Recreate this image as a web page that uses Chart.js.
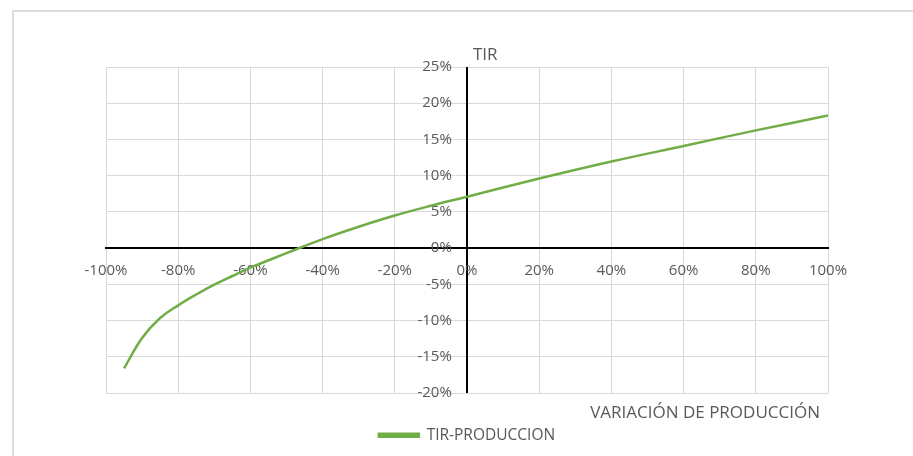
<!DOCTYPE html>
<html>
<head>
<meta charset="utf-8">
<script src="https://cdn.jsdelivr.net/npm/chart.js@4/dist/chart.umd.min.js"></script>
<style>
  html, body { margin: 0; padding: 0; background: #fff; overflow: hidden; }
  #wrap { position: relative; width: 913px; height: 456px; }
  #frame { position: absolute; left: 12px; top: 10px; width: 1000px; height: 1000px;
           border-left: 2px solid #dcdcdc; border-top: 2px solid #dcdcdc; }
  canvas { position: absolute; left: 0; top: 0; }
</style>
</head>
<body>
<div id="wrap">
  <div id="frame"></div>
  <canvas id="chart" width="913" height="456"></canvas>
</div>
<script>
// Production variation (%) and resulting internal rate of return (%)
const variacion = [-95, -90, -85, -80, -75, -70, -65, -60, -50, -40, -30, -20, -10, 0, 20, 40, 60, 80, 100];
const tir = [-16.6, -12.4, -9.65, -7.9, -6.4, -5.05, -3.85, -2.7, -0.7, 1.25, 2.95, 4.5, 5.85, 7.1, 9.6, 11.95, 14.1, 16.25, 18.3];

const xTicks = [-100, -80, -60, -40, -20, 0, 20, 40, 60, 80, 100];
const yTicks = [-20, -15, -10, -5, 0, 5, 10, 15, 20, 25];

const seriesName = 'TIR-PRODUCCION';
const xTitle = 'VARIACIÓN DE PRODUCCIÓN';
const yTitle = 'TIR';

const FONT = "'Open Sans', 'Noto Sans', sans-serif";
const TEXT = '#595959';
const GRID = '#d9d9d9';
const GREEN = '#70ad47';

// Bottom layout box holding the horizontal axis title, between plot and legend
const xTitleBox = {
  id: 'xTitleBox',
  beforeInit(chart) {
    const box = {
      options: {},
      position: 'bottom',
      weight: 500,
      fullSize: false,
      left: 0, top: 0, right: 0, bottom: 0, width: 0, height: 0,
      isHorizontal() { return true; },
      getPadding() { return { left: 0, right: 0, top: 0, bottom: 0 }; },
      update(maxWidth) {
        this.width = maxWidth;
        this.height = 24.5;
        return { width: this.width, height: this.height };
      },
      draw() {
        const ctx = chart.ctx;
        ctx.save();
        ctx.fillStyle = TEXT;
        ctx.font = '17px ' + FONT;
        ctx.textBaseline = 'middle';
        ctx.textAlign = 'right';
        ctx.fillText(xTitle, this.right - 8, this.top + 20);
        ctx.restore();
      }
    };
    Chart.layouts.addBox(chart, box);
  }
};

// Vertical axis title, placed just right of the vertical zero line above the plot
const yTitleLabel = {
  id: 'yTitleLabel',
  afterDraw(chart) {
    const { ctx, chartArea, scales } = chart;
    ctx.save();
    ctx.fillStyle = TEXT;
    ctx.font = '17px ' + FONT;
    ctx.textBaseline = 'middle';
    ctx.textAlign = 'left';
    ctx.fillText(yTitle, scales.x.getPixelForValue(0) + 6, chartArea.top - 12);
    ctx.restore();
  }
};

new Chart(document.getElementById('chart'), {
  type: 'scatter',
  data: {
    datasets: [{
      label: seriesName,
      data: variacion.map((v, i) => ({ x: v, y: tir[i] })),
      showLine: true,
      borderColor: GREEN,
      backgroundColor: GREEN,
      borderWidth: 2.5,
      pointRadius: 0,
      pointHoverRadius: 0,
      tension: 0.4,
      fill: false
    }]
  },
  options: {
    responsive: false,
    animation: false,
    events: [],
    layout: { padding: { left: 106, right: 85, top: 67, bottom: 3 } },
    scales: {
      x: {
        type: 'linear',
        position: { y: 0 },
        min: -100, max: 100,
        afterBuildTicks(s) { s.ticks = xTicks.map(v => ({ value: v })); },
        ticks: {
          color: TEXT,
          font: { family: FONT, size: 15 },
          padding: 14,
          callback: v => v + '%'
        },
        grid: {
          z: -0.5,
          drawTicks: false,
          color: c => (c.tick && c.tick.value === 0 ? '#000' : GRID),
          lineWidth: c => (c.tick && c.tick.value === 0 ? 2 : 1)
        },
        border: { display: true, color: '#000', width: 2 }
      },
      y: {
        type: 'linear',
        // labels sit in a gutter just left of the vertical zero line
        position: { x: -4.2 },
        min: -20, max: 25,
        afterFit(s) { s.width = 0; },
        afterBuildTicks(s) { s.ticks = yTicks.map(v => ({ value: v })); },
        ticks: {
          color: TEXT,
          font: { family: FONT, size: 15 },
          callback: v => v + '%'
        },
        grid: { drawTicks: false, color: GRID, lineWidth: 1 },
        border: { display: false }
      }
    },
    plugins: {
      legend: {
        display: true,
        position: 'bottom',
        labels: {
          color: TEXT,
          font: { family: FONT, size: 15.5 },
          boxWidth: 40,
          boxHeight: 3,
          padding: 10
        }
      },
      tooltip: { enabled: false },
      title: { display: false }
    }
  },
  plugins: [xTitleBox, yTitleLabel]
});
</script>
</body>
</html>
